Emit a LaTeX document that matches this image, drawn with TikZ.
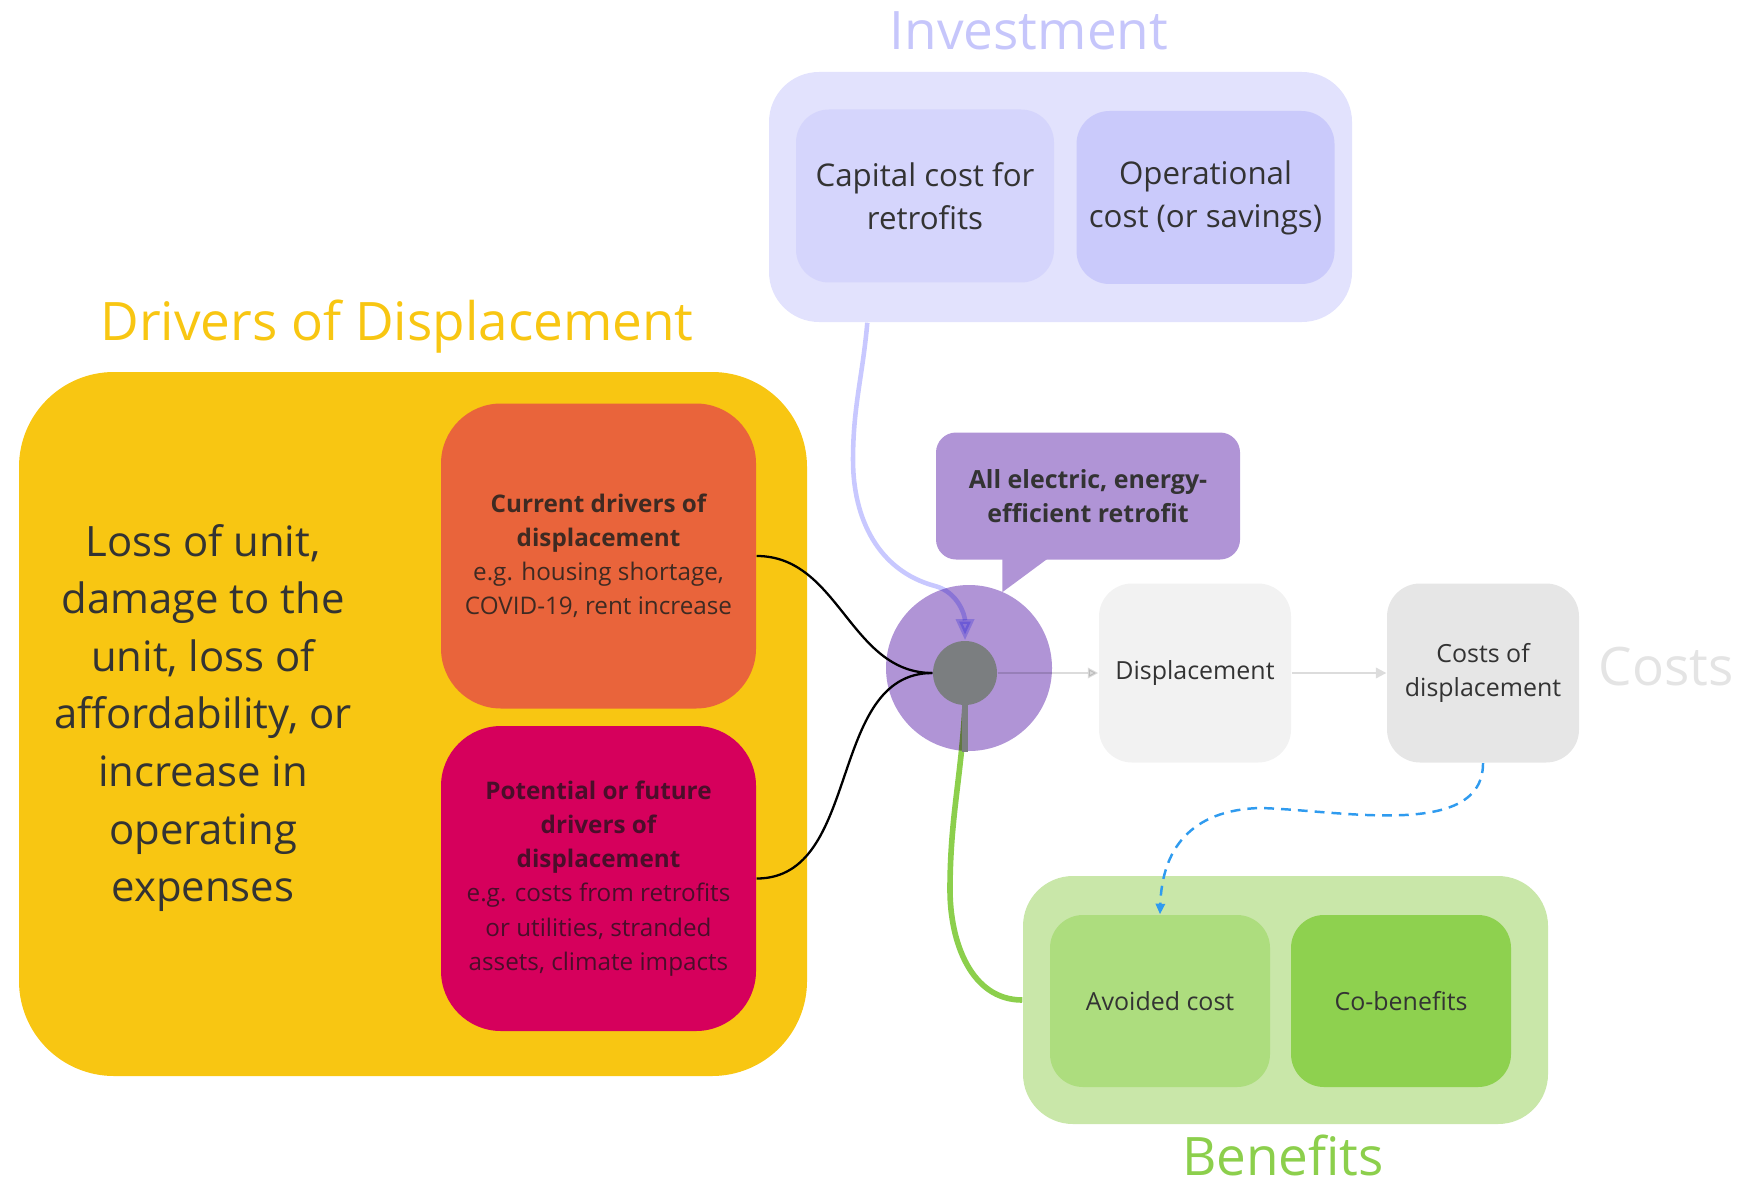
\documentclass[tikz,border=0pt]{standalone}
\usepackage{fontspec}
\setmainfont{Open Sans}
\usepackage{xcolor}
\usetikzlibrary{arrows.meta, positioning, calc}

\definecolor{drvyellow}{HTML}{F8C612}
\definecolor{curorange}{HTML}{E9643B}
\definecolor{potpink}{HTML}{D6005C}
\definecolor{invouter}{HTML}{E2E2FD}
\definecolor{invcap}{HTML}{D5D5FC}
\definecolor{invop}{HTML}{CACAFB}
\definecolor{invtitle}{HTML}{C6C6FB}
\definecolor{invline}{HTML}{C8C8FF}
\definecolor{retpurple}{HTML}{B094D6}
\definecolor{hubgray}{HTML}{7B7E80}
\definecolor{dispgray}{HTML}{F2F2F2}
\definecolor{costgray}{HTML}{E6E6E6}
\definecolor{coststitle}{HTML}{E4E4E4}
\definecolor{flowgray}{HTML}{DCDCDC}
\definecolor{benouter}{HTML}{C9E7A9}
\definecolor{benavoid}{HTML}{ADDD7E}
\definecolor{bencob}{HTML}{8ED14F}
\definecolor{bengreen}{HTML}{8CCF4C}
\definecolor{costblue}{HTML}{2F9BEF}
\definecolor{txtdark}{HTML}{333333}
\definecolor{curtxt}{HTML}{3E2A22}
\definecolor{pottxt}{HTML}{4A0E2A}

\pgfdeclarelayer{front}
\pgfsetlayers{main,front}

\begin{document}
\begin{tikzpicture}[
  grpbox/.style={rectangle, rounded corners=5mm, inner sep=0pt},
  drvbox/.style={rectangle, rounded corners=6mm,
    minimum width=3.15cm, minimum height=3.05cm,
    align=center, inner sep=0pt, font=\fontsize{6.9}{9.7}\selectfont},
  invbox/.style={rectangle, rounded corners=3.3mm,
    minimum width=2.58cm, minimum height=1.73cm,
    align=center, inner sep=0pt, text=txtdark,
    font=\fontsize{8.9}{12.2}\selectfont},
  flowbox/.style={rectangle, rounded corners=3.3mm,
    minimum width=1.92cm, minimum height=1.79cm,
    align=center, inner sep=0pt, text=txtdark,
    font=\fontsize{7.1}{9.7}\selectfont},
  benbox/.style={rectangle, rounded corners=3.3mm,
    minimum width=2.2cm, minimum height=1.72cm,
    align=center, inner sep=0pt, text=txtdark,
    font=\fontsize{7.1}{9.7}\selectfont},
  grptitle/.style={font=\fontsize{15.1}{18}\selectfont, anchor=base, inner sep=0pt},
  drvline/.style={draw=black, line width=0.65pt},
  invarr/.style={-{Triangle[length=6pt, width=5pt]}, draw=invline, line width=1.3pt},
  benline/.style={draw=bengreen, line width=1.6pt},
  flowarr/.style={-{Triangle[length=3pt, width=3pt]}, draw=flowgray, line width=0.6pt},
  costarr/.style={-{Triangle[length=3pt, width=2.6pt]}, draw=costblue,
    line width=0.7pt, dash pattern=on 2.8pt off 2pt}
]
\useasboundingbox (0,0) rectangle (17.39,-11.84);

%% ==== Drivers of displacement ====
\node[grpbox, fill=drvyellow, rounded corners=9.5mm,
  minimum width=7.88cm, minimum height=7.04cm] (DRV) at (4.13,-7.24) {};
\node[grptitle, text=drvyellow] (DRVt) at (3.97,-3.40) {Drivers of Displacement};
\node[font=\fontsize{11.9}{16.4}\selectfont, align=center, text=txtdark] (LOSS) at (2.03,-7.18)
  {Loss of unit,\\damage to the\\unit, loss of\\affordability, or\\increase in\\operating\\expenses};
\node[drvbox, fill=curorange, text=curtxt] (CUR) at (5.985,-5.56)
  {{\bfseries Current drivers of}\\{\bfseries displacement}\\e.g. housing shortage,\\COVID-19, rent increase};
\node[drvbox, fill=potpink, text=pottxt] (POT) at (5.985,-8.785)
  {{\bfseries Potential or future}\\{\bfseries drivers of}\\{\bfseries displacement}\\e.g. costs from retrofits\\or utilities, stranded\\assets, climate impacts};

%% ==== Investment ====
\node[grpbox, fill=invouter, minimum width=5.83cm, minimum height=2.50cm] (INV) at (10.605,-1.97) {};
\node[grptitle, text=invtitle] (INVt) at (10.29,-0.50) {Investment};
\node[invbox, fill=invcap] (CAP) at (9.25,-1.96) {Capital cost for\\retrofits};
\node[invbox, fill=invop] (OPC) at (12.055,-1.975) {Operational\\cost (or savings)};

%% ==== Retrofit hub ====
\node[rectangle, rounded corners=2mm, fill=retpurple, minimum width=3.04cm, minimum height=1.27cm,
  align=center, inner sep=0pt, text=txtdark, font=\fontsize{7.1}{9.7}\selectfont\bfseries]
  (RET) at (10.88,-4.96) {All electric, energy-\\efficient retrofit};
\fill[retpurple] ($(RET.south west)+(0.67,0.05)$) -- ++(0,-0.37) -- ++(0.50,0.37) -- cycle;
\node[circle, fill=retpurple, minimum size=1.66cm, inner sep=0pt] (HUB) at (9.69,-6.68) {};
\begin{pgfonlayer}{front}
  \node[circle, fill=hubgray, minimum size=0.64cm, inner sep=0pt] (DOT) at (9.65,-6.73) {};
  \draw[hubgray, line width=1.7pt] (DOT.center) -- (DOT.center |- HUB.south);
\end{pgfonlayer}

%% ==== Costs ====
\node[flowbox, fill=dispgray] (DISP) at (11.95,-6.73) {Displacement};
\node[flowbox, fill=costgray] (COD) at (14.83,-6.73) {Costs of\\displacement};
\node[grptitle, anchor=west, text=coststitle] (COSTt) at (15.98,-6.67) {Costs};

%% ==== Benefits ====
\node[grpbox, fill=benouter, minimum width=5.25cm, minimum height=2.48cm] (BEN) at (12.855,-10.0) {};
\node[grptitle, text=bengreen] (BENt) at (12.83,-11.75) {Benefits};
\node[benbox, fill=benavoid] (AVD) at (11.60,-10.01) {Avoided cost};
\node[benbox, fill=bencob] (COB) at (14.01,-10.01) {Co-benefits};

%% ==== Connectors into and out of the hub ====
\begin{scope}[blend mode=multiply]
  \draw[drvline] (CUR.east) to[out=0, in=180] (DOT.west);
  \draw[drvline] (POT.east) to[out=0, in=180] (DOT.west);
  \draw[invarr] ($(INV.south west)+(0.99,0)$) to[out=-95, in=90] (8.53,-4.60)
    to[out=-90, in=165] (9.35,-5.86) to[out=-15, in=90] (DOT.north);
  \draw[benline] (DOT.south) to[out=-93, in=90] (9.50,-8.90) to[out=-90, in=180] (BEN.west);
  \draw[flowarr] (DOT.east) -- (DISP.west);
\end{scope}

%% ==== Cost chain ====
\draw[flowarr] (DISP.east) -- (COD.west);
\draw[costarr] (COD.south) .. controls (14.83,-8.40) and (13.40,-8.10) .. (12.60,-8.08)
  .. controls (11.90,-8.10) and (11.62,-8.50) .. (AVD.north);

\end{tikzpicture}
\end{document}
